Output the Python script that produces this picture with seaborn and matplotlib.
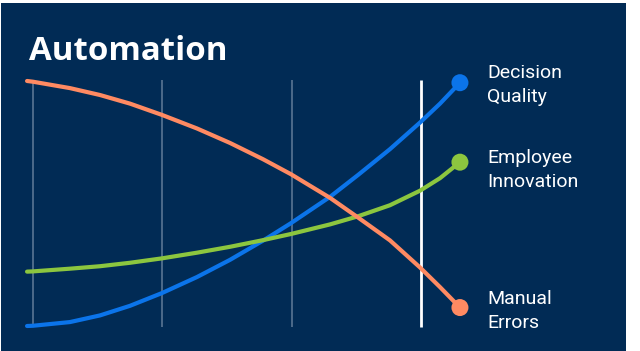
import matplotlib
matplotlib.use("Agg")
import matplotlib.pyplot as plt
import seaborn as sns
import pandas as pd

# ---- data ----
x_pos = [-0.046, 0.0, 0.286, 0.518, 0.750, 0.998, 1.268, 1.524, 1.779, 1.995,
         2.297, 2.514, 2.761, 2.993, 3.148, 3.302]
manual_errors = [99.6, 99.3, 96.7, 93.9, 90.4, 85.8, 80.3, 74.4, 67.8, 61.7,
                 52.1, 44.1, 34.8, 23.8, 15.8, 7.5]
decision_quality = [0.0, 0.1, 1.6, 4.3, 8.2, 13.4, 19.9, 26.9, 34.7, 41.8,
                    52.5, 61.4, 71.9, 82.7, 90.4, 98.9]
employee_innovation = [22.1, 22.2, 23.3, 24.3, 25.7, 27.5, 29.8, 32.2, 34.9, 37.4,
                       41.3, 44.6, 49.1, 55.0, 60.1, 66.6]
series_names = ["Decision\nQuality", "Employee\nInnovation", "Manual\nErrors"]
title = "Automation"
grid_x = [0, 1, 2]
highlight_x = 3

colors = {"Decision\nQuality": "#0b74ea",
          "Employee\nInnovation": "#8cc63f",
          "Manual\nErrors": "#ff8a62"}
BG = "#012b55"

df = pd.concat([
    pd.DataFrame({"x": x_pos, "y": decision_quality, "series": series_names[0]}),
    pd.DataFrame({"x": x_pos, "y": employee_innovation, "series": series_names[1]}),
    pd.DataFrame({"x": x_pos, "y": manual_errors, "series": series_names[2]}),
])

sns.set_theme(style="white")
plt.rcParams["font.family"] = ["Roboto", "DejaVu Sans"]

fig = plt.figure(figsize=(6.4, 3.51), dpi=100, facecolor="white")
ax = fig.add_axes([1 / 640, 0, 625 / 640, 348 / 351])
ax.set_facecolor(BG)
for s in ax.spines.values():
    s.set_visible(False)

# pixel mapping: x = (px-33)/129.3, y = (326-py)/2.46
ax.set_xlim((1 - 33) / 129.3, (626 - 33) / 129.3)
ax.set_ylim((326 - 351) / 2.46, (326 - 3) / 2.46)
ax.set_xticks([])
ax.set_yticks([])

ax.vlines(grid_x, -0.4, 100, color="#4d6a8a", lw=1.4, zorder=1)
ax.vlines([highlight_x], -0.4, 100, color="white", lw=2.0, zorder=1)

sns.lineplot(data=df, x="x", y="y", hue="series", palette=colors, lw=3,
             legend=False, ax=ax, zorder=3, sort=False)
for ln in ax.lines:
    ln.set_solid_capstyle("round")
    ln.set_solid_joinstyle("round")

last = df.groupby("series", sort=False).tail(1)
sns.scatterplot(data=last, x="x", y="y", hue="series", palette=colors, s=150,
                edgecolor="none", legend=False, ax=ax, zorder=4)

label_dy = {"Decision\nQuality": -0.8, "Employee\nInnovation": -3.2, "Manual\nErrors": -1.4}
lx = (487 - 33) / 129.3
for _, r in last.iterrows():
    ax.text(lx, r["y"] + label_dy[r["series"]], r["series"], color="white",
            fontsize=14, va="center", ha="left", linespacing=1.42)

ax.text((29 - 33) / 129.3, (326 - 60) / 2.46, title, color="white",
        fontsize=23.8, fontweight="bold", va="baseline", ha="left",
        family=["Open Sans", "DejaVu Sans"])

fig.savefig("out.png", dpi=100, facecolor="white")
